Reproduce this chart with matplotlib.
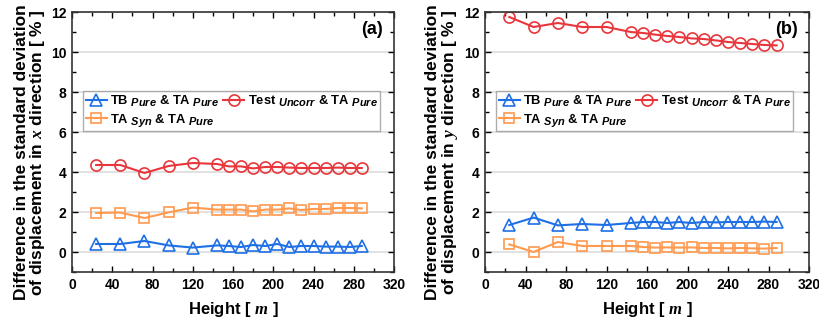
"""Difference in standard deviation of displacement vs height, x and y directions."""

import matplotlib
matplotlib.use("Agg")
import matplotlib.pyplot as plt
import matplotlib._mathtext as mathtext_internal
from matplotlib.ticker import MultipleLocator

plt.rcParams["font.family"] = "Liberation Sans"
plt.rcParams["font.weight"] = "bold"
plt.rcParams["axes.labelweight"] = "bold"
plt.rcParams["mathtext.fontset"] = "custom"
plt.rcParams["mathtext.rm"] = "Liberation Sans:bold"
plt.rcParams["mathtext.it"] = "Liberation Sans:italic:bold"
plt.rcParams["mathtext.cal"] = "Liberation Serif:italic"
# subscripts in the original are only a bit smaller than the main text
mathtext_internal.SHRINK_FACTOR = 0.85

heights = [24, 48, 72, 96, 120, 144, 156, 168, 180, 192, 204, 216, 228, 240, 252, 264, 276, 288]

# panel (a): x direction
tb_x = [0.40, 0.40, 0.55, 0.33, 0.22, 0.33, 0.30, 0.25, 0.35, 0.30, 0.40, 0.25, 0.30, 0.30, 0.27, 0.27, 0.25, 0.30]
test_x = [4.35, 4.35, 3.95, 4.30, 4.45, 4.40, 4.28, 4.28, 4.18, 4.25, 4.25, 4.22, 4.20, 4.20, 4.20, 4.22, 4.20, 4.20]
syn_x = [1.95, 1.97, 1.70, 1.98, 2.22, 2.12, 2.12, 2.12, 2.03, 2.12, 2.12, 2.18, 2.10, 2.15, 2.15, 2.20, 2.20, 2.18]

# panel (b): y direction
tb_y = [1.35, 1.72, 1.33, 1.40, 1.35, 1.45, 1.50, 1.50, 1.45, 1.50, 1.45, 1.50, 1.48, 1.50, 1.50, 1.50, 1.52, 1.50]
test_y = [11.75, 11.25, 11.45, 11.25, 11.25, 11.00, 10.95, 10.87, 10.80, 10.75, 10.68, 10.65, 10.58, 10.50, 10.45, 10.40, 10.35, 10.33]
syn_y = [0.38, 0.00, 0.50, 0.30, 0.30, 0.30, 0.25, 0.22, 0.23, 0.22, 0.23, 0.20, 0.20, 0.18, 0.20, 0.18, 0.17, 0.20]

x_ticks = [0, 40, 80, 120, 160, 200, 240, 280, 320]
y_ticks = [0, 2, 4, 6, 8, 10, 12]

BLUE = "#1f6fe5"
RED = "#e8363c"
ORANGE = "#ff9a4f"

LBL_TB = r"TB $_{Pure}$ & TA $_{Pure}$"
LBL_TEST = r"Test $_{Uncorr}$ & TA $_{Pure}$"
LBL_SYN = r"TA $_{Syn}$ & TA $_{Pure}$"


def draw_panel(ax, tb, test, syn, axis_name, tag):
    ax.plot(heights, tb, color=BLUE, lw=1.5, marker="^", ms=8.5,
            mfc="none", mec=BLUE, mew=1.2, label=LBL_TB)
    ax.plot(heights, syn, color=ORANGE, lw=1.5, marker="s", ms=7,
            mfc="none", mec=ORANGE, mew=1.2, label=LBL_SYN)
    ax.plot(heights, test, color=RED, lw=1.5, marker="o", ms=8,
            mfc="none", mec=RED, mew=1.2, label=LBL_TEST)

    ax.set_xlim(0, 320)
    ax.set_ylim(-1, 12)
    ax.set_xticks(x_ticks, [str(t) for t in x_ticks], fontweight="bold")
    ax.set_yticks(y_ticks, [str(t) for t in y_ticks], fontweight="bold")
    ax.xaxis.set_minor_locator(MultipleLocator(20))
    ax.yaxis.set_minor_locator(MultipleLocator(1))
    ax.tick_params(which="both", direction="in", top=True, right=True,
                   labelsize=10, width=1)
    ax.tick_params(which="major", length=4, pad=4)
    ax.tick_params(which="minor", length=3)
    ax.grid(axis="y", which="major", color="#dcdcdc", lw=1.2)
    ax.set_axisbelow(True)
    for s in ax.spines.values():
        s.set_linewidth(1.2)
        s.set_color("#333333")

    ax.set_xlabel(r"Height [ $\mathcal{m}$ ]", fontsize=12,
                  fontweight="bold", labelpad=6)
    ax.set_ylabel("Difference in the standard deviation\n"
                  r"of displacement in $\mathcal{" + axis_name + r"}$ direction [ % ]",
                  fontsize=12.5, fontweight="bold", linespacing=0.95)
    ax.yaxis.set_label_coords(-0.078, 0.46)
    ax.text(298, 11.1, tag, fontsize=13, fontweight="bold",
            ha="center", va="center")

    leg = ax.legend(loc="upper left", bbox_to_anchor=(0.035, 0.695), ncol=2,
                    prop={"size": 9.3, "weight": "bold"}, frameon=True,
                    fancybox=False, edgecolor="#999999", handlelength=1.6,
                    handletextpad=0.3, columnspacing=0.3, borderpad=0.2,
                    labelspacing=0.25, borderaxespad=0)
    leg.get_frame().set_linewidth(1.0)


fig = plt.figure(figsize=(8.19, 3.22), dpi=100)
ax_a = fig.add_axes([72 / 819, 50 / 322, 322 / 819, 260 / 322])
ax_b = fig.add_axes([485 / 819, 50 / 322, 324 / 819, 260 / 322])

draw_panel(ax_a, tb_x, test_x, syn_x, "x", "(a)")
draw_panel(ax_b, tb_y, test_y, syn_y, "y", "(b)")

fig.savefig("out.png", dpi=100)
